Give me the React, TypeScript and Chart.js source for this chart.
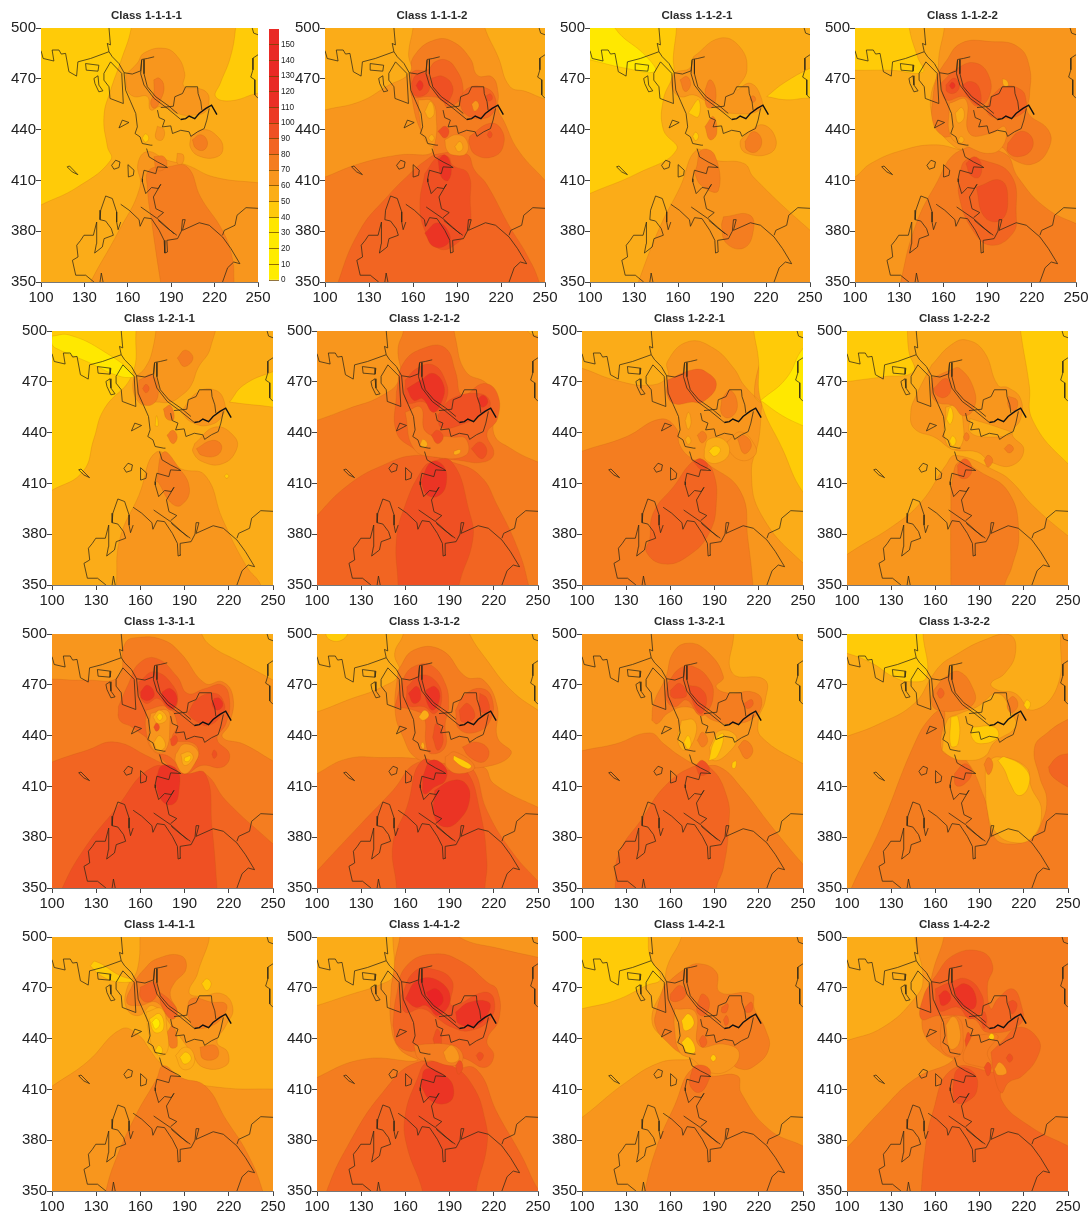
import React, { useEffect, useRef } from "react";
import { Chart, registerables } from "chart.js";

Chart.register(...registerables);

type Row = number[];

const xTicks = [100, 130, 160, 190, 220, 250];
const yTicks = [350, 380, 410, 440, 470, 500];
const legendLevels = [0, 10, 20, 30, 40, 50, 60, 70, 80, 90, 100, 110, 120, 130, 140, 150];
const legendColors = ["#FFEC00", "#FFEC00", "#FFE900", "#FFE600", "#FFC90B", "#FBAE17", "#F8961D", "#F47D20", "#F26522", "#EF5023", "#EC3A24", "#EA2F25", "#E92A25", "#E92A25", "#E92A25", "#E92A25"];
const levelColor: Record<number, string> = { 30: "#FFE800", 40: "#FFCB08", 50: "#FBAC18", 60: "#F8961D", 70: "#F47D20", 80: "#F26522", 90: "#EF5023", 100: "#EB3424", 110: "#E92325" };

// map outline, data coordinates x,y,x,y...
const coastNorth = [100,486.6,101.5,482,108.9,480.5,107.7,487,112.4,487,114,484.6,117,485,119.3,474.2,124.6,471.6,125.5,480,134.3,482,147,486,149.3,483,153.9,479,157.4,473.6,163.1,472.8,168.9,474.7,169.6,481.4,173.5,482,178.2,483];
const coastNorthBranch = [147,486,145.8,490.9,148,490,147,500];
const coastCentre = [157.4,473.6,158.5,463.3,162,456.4,165.5,449.5,166.6,441.6,165,437.7,168.5,435.7,170,431.8,175.8,430.8,177,430.8];
const coastSouthA = [173,428.8,174.7,423.9,180.5,420.9,185.1,418.9,187.4,417.6,180.5,418,179.3,414,171.2,416,170,411,170.1,409.1,172.4,402.2,176.4,405.8,181,405.2,182.8,407.7,177.7,400.2,179.4,393.3,184.7,391,180.5,388];
const riverA = [169.6,481,168.9,473,171.2,466.3,178.2,458.4,187.4,452.5,196.6,446];
const riverB = [171.2,481.4,171.2,473,173.5,465.3,179.3,459.4,188.5,453.8,194.3,449.5];
const thickLine = [196.6,446,200,446.5,202.4,448,206.3,446.5,209.3,449.5,214,452.5,217.9,454.4,221.6,448.9];
const bayNorth = [182.8,453,191.5,453.8,192.5,459.4,197.8,461.3,200,465.3,208.2,465.3,208.6,461.3,210.5,456.4,211.2,451.5];
const baySouth = [180.5,451.5,181.6,447.1,185.5,445.6,183.9,441.6,189.7,442.2,190.9,437.7,196.6,439.6,202.4,438.7,203.6,436,208.2,438.7,212.8,440.6,214.6,445.6,216.3,452.5];
const roadA = [169,394.3,180.5,387.4,192,378.5];
const roadB = [181,386.4,187,382,193.9,377.6];
const coastSouthB = [155.1,395.9,160.9,392.4,167.8,386.8,168.5,382.9,171.3,388,176.4,387.4,181.7,380.5,185.1,374.6,185.6,367.1,187.4,367.7,187,374.6,194.4,375.6,197.1,380.1,197.8,386.8,199.7,386.8,197.8,380.5,209.4,385,216.3,383.5,225.5,376.6,231.3,369.7,237.5,360.8,233.2,361.8,229,358.4,225.5,350];
const coastEast = [225.5,377.6,226.7,380.5,234.1,383.5,235.5,389.4,241.7,393.9,250,393.5];
const peninsula = [144.7,400.8,141.3,392.4,140.8,386.8,144.7,386,148.6,381.5,150,377.6,143.6,375.6,142.4,370.7,137.1,367.1,138.3,372.6,138.5,385.4,136.2,377.6,129.7,377.6,127.4,374.6,124.7,371.7,125.6,364.8,121.7,362.8,124,354,130.9,354,136.6,350];
const peninsulaEast = [144.7,400.8,149.3,399.3,152.3,391.4,152.3,385.4,153.3,380.9,155.1,385.4];
const tipSouth = [140.8,350,141.7,355.3,142.9,350];
const islandBox = [130.8,479,140,478,139.4,474.5,131.3,475.1,130.8,479];
const islandThin = [136.6,470.2,139.4,471.8,140,466.3,142.8,462.9,140,462.3,137.3,467.2,136.6,470.2];
const islandLarge = [143.5,473.2,148.1,480,155.8,473.2,156.9,455.4,147.7,458.4,147,465.3,143.5,469.2,143.5,473.2];
const islandTriangle = [153.9,441,156.2,445.6,160.8,444.2,153.9,441];
const islandRound = [148.8,418.9,151.6,421.9,154.6,420.9,153.9,417.6,150.4,416.6,148.8,418.9];
const islandTall = [160.4,412,160.1,419.3,164.3,416,163.8,413,160.4,412];
const islandWest = [118.1,418,119.7,418.5,125.5,413.4,121.6,415,118.1,418];
const cornerNE = [246,500,247,497,250,496];
const coastEdgeE = [250,484.2,246.5,482.2,246.5,475.3,245,471,247.8,469.4,247.8,460.5,250,458.5];
const outlines = [coastNorth, coastNorthBranch, coastCentre, coastSouthA, riverA, riverB, bayNorth, baySouth, roadA, roadB, coastSouthB, coastEast, peninsula, peninsulaEast, tipSouth, islandBox, islandThin, islandLarge, islandTriangle, islandRound, islandTall, islandWest, cornerNE, coastEdgeE];

// contour bands of each class: first number = band level, then x,y pairs
const class1111: Row[] = [
  [40,90,510,162,510,162.4,500,155,480,148.2,463.5,143.5,447.7,145.9,430,148.2,422,125.1,406,100,395.5,90,391],
  [40,234.5,510,234.5,500,231,483,224,467.4,220.7,459.5,231,457,250,461.5,260,462,260,510],
  [60,130,340,134.3,350,152.8,378.6,168.4,406,167,420,173.5,427,187,422,201,419,219.6,412,250,408.6,260,408,260,340],
  [70,185,340,182.7,350,177,382.5,173.5,406,174.6,416,187.3,418,201,418,210.4,400,225.3,380.6,232,365,233.4,350,233,340],
  [60,158.5,472.4,166.6,479.3,171.2,485.2,185,488,194.2,483.2,199.3,473.4,198.8,465.5,208,464.5,215,461.5,216,455.6,213.8,450.6,207,448.7,197.7,448.7,182.7,453.6,175.8,451.6,173.5,459.5,164.3,459.5,159.7,463.5],
  [60,203.5,436,212.7,440,221.9,436,225.8,429,221.9,424,210.4,424,203.5,429],
  [70,204.6,434,210.4,437,215,433,212.7,428,207,429],
  [70,178,469.4,181.6,470.4,185,465.5,182.7,457.6,178.6,452.6,175.8,455.6,178,461.5],
  [70,178,424,185,424,186.6,418,180.4,416],
  [60,194.2,426,198.4,425,197.7,420,194.2,420],
  [60,180.4,442,185,440,183.9,434,179.3,435],
  [40,170,435,172.3,437.5,174.5,435,172.3,432.5],
];
const class1112: Row[] = [
  [70,100,412,124,420,150,425,173.7,427,165,440,160,455,158,474,162,485,175,493,187,492,199,482,204,472,214,471,218,462,218,452,222,445,231.6,428,250,410,260,400,260,340,90,340,90,408],
  [50,90,510,161,510,160,500,157,485,158,474,142,465.5,124,456.6,100,451.6,90,449],
  [50,207,510,209,500,218,483,226,465.5,237,462.5,250,458,260,456,260,510],
  [80,108,340,109,350,123.8,380.6,142,400,157.9,414,169,422,177,425.6,196.4,425.6,202,416,210,408,226,382.5,237,367,246,350,247,340],
  [90,168,414,177,424,184,424,187,419,197.6,414,199,398,198,382.5,187,371,177,370,168,380.6,164.7,396],
  [100,177,422,181.7,425,186,418,184,410,179.4,412],
  [100,168,379,177,385,185,378,183,372,174,371],
  [80,158.5,468.4,160,474.3,170,475.3,175,480,183,481,189.6,475.3,194,465.5,192,457.6,182.8,453.6,180.5,457.6,171.5,459.5,160,459.5],
  [90,159,467.4,162.4,472.4,169,473,171.5,465.5,168,460.5,161,460.5],
  [90,172.6,470.4,180.5,471.4,187,465.5,185,457.6,181.7,455.6,174,463.5],
  [100,162,466,164.7,469,167,466,164.7,463],
  [80,190.8,457.6,198.7,465,210,464.5,215.7,459.5,215.7,451.6,209,446.7,196.4,448.7],
  [60,200,455,203,457,205,454,202,451],
  [90,210,460,213,461,214,458,211,457],
  [80,198.7,436,212.3,443.7,220.3,440,221.4,430,214.6,424,203,425,198.2,432],
  [90,210.5,437,212.3,439,214,437,212.3,435],
  [60,163.5,457.6,173,456.6,176,445,175,432,172.6,430,167,436,164.7,445.7],
  [50,168,450.6,172,456.6,174.5,449.7,171,446.7],
  [50,170.5,435,172.6,437,174.5,435,172.6,433],
  [60,181.7,434,189.6,437,196.4,434,196.4,426,187.4,425,183,428],
  [50,188.5,430,192,433,194,429,190.8,427],
  [90,177,439,181.7,442,184.6,439,181.7,435],
];
const class1121: Row[] = [
  [40,90,510,159,510,159,500,156.8,483,156.8,473,150,457.6,150,440,159,428,132,414,100,402.3,90,398],
  [30,90,510,117,510,117,500,138.6,483,144.3,474.3,123.9,476.3,100,481.2,90,483],
  [40,220.5,459.5,232,467.4,250,476.3,260,480,260,456,250,458.5,234,457.6],
  [60,130,340,133,350,147.7,382.5,161.4,406,172.7,428,185,422,205,420,211.4,412,250,380.6,260,375,260,340],
  [60,170.5,483,188.6,494,202,489,207,475,200,463.5,209,467.4,216,460.5,216,451.6,195.5,449.7,184,453.6,177.3,457.6,170.5,460.5,161.4,459.5,155.7,465.5,158,473.3,168,476.3],
  [60,206.8,437.8,218,442.8,226.8,434,222.7,426,206.8,426,202.3,432],
  [70,205.7,433,211.4,438.8,217,434,213.6,427,207,428],
  [70,172.7,418,176,428,185,425,187.5,404,177.3,406,171.6,414],
  [70,191,388.5,209,389.5,211,378.6,204.6,370,193.2,372.7,189.8,382.5],
  [70,178.4,463.5,181.8,469.4,185.7,463.5,184,453.6,179.5,453.6],
  [70,161.4,469.4,166,471.4,168.6,466.5,164.8,462.5],
  [70,178.4,441.8,184,447.7,186.4,437.8,181.8,434],
  [40,167,449.7,173.9,457.6,173.9,447.7],
  [40,170,436,172,438.5,174,436,172,433.5],
  [70,209,458,211,460,213,458,211,456],
];
const class1122: Row[] = [
  [70,129,340,131,350,140,380.6,153.8,406,172,428,201.4,426,210.5,412,228.6,394.4,250,384.5,260,382,260,340],
  [50,90,408,100,412,110.7,420,133,428,155,431,172,428,167.4,430,158.3,438,152.6,447.7,151.5,459.5,156,473.4,157.2,485,160.6,500,160.6,510,90,510],
  [40,90,510,137,510,136.8,500,142.4,483,146,474,125,475,100,475,90,475],
  [70,160.6,479,172,491,192,492,210.5,489,218.4,477,218.4,459.5,217.3,450,231,440,232,430,221.8,420,208,422,199,430,175,436,165,436,160,436,153,444,153,459.5,156,472],
  [60,164,455.6,175.3,457.6,177.6,437.8,192.3,437.8,201.4,441.8,201.4,432,192.3,426,176.5,430,165,436],
  [80,158.3,467.4,169.7,476.3,182,479.3,191,471.4,191,459.5,183.3,453.6,174.2,459.5,161.7,457.6],
  [90,161.7,466.4,167.4,470.4,170.8,465.5,167.4,461.5,162.4,462.5],
  [90,172.4,466.4,178.7,468.4,184.4,464.5,184.4,454.6,176.5,459.5],
  [100,164,466,166,468,168,466,166,464],
  [80,170.8,414,175.3,422,186.7,422,206,413,209.4,390.4,207,378.6,192.3,371.7,179.9,380.6,170.8,400],
  [90,175.3,420,181,424,185.5,420,184.4,412,178.7,413],
  [90,182.3,406,199,410,203.7,398,199,386.5,187.8,388.5],
  [80,192.3,459.5,201.4,465.5,212.7,463.5,216,457.6,215,450.6,201.4,446.7,190,449.7],
  [80,203.7,432,211.6,438.8,219.6,436,219.6,428,210.5,424,203.7,427],
  [50,168,449.7,172.5,453,174,447,170,444],
  [50,170,434,172,436,174,434,172,432],
  [50,200,470,203,469,204,466,201,466],
];
const class1211: Row[] = [
  [40,90,510,157,510,157,500,154.3,474,135.4,454,128.3,436,121,417,100,406,90,402],
  [30,100,497,111.8,497.6,135.4,487.8,155.5,474,147,473,123.6,482,104.7,489,100,492],
  [40,220.5,458,230,468,250,476,260,478,260,453,250,455,230,457],
  [60,172,510,208.7,510,207.5,490,199,478,194.5,468,188,462,180,458,170,458,160,457,155,470,163,478,168,488],
  [60,196.8,433.5,211,443.3,224,437.4,225,429.5,215.7,421.6,202.7,422.6,195.7,428.5],
  [70,198,430.5,208.6,435.4,215,432.5,212,426.6,201.6,426.6],
  [60,187.4,452.2,199,464,211,465,217,458,215.7,450,206,444.3,194.5,446.3],
  [60,143,340,143.7,350,146,377,159,403,170.9,428.5,187.4,418.7,204,414.7,215.7,389,232,361,241.7,350,243,340],
  [70,170.9,411,175.6,428.5,185,420.6,193.3,406.8,187.4,397,180.3,399,172,410.8],
  [70,159,471,168.5,474,172,462,166,456,159,460],
  [80,161.5,466,163.8,468.5,166,466,163.8,463.5],
  [70,185,484,190.5,488.7,195.7,484,189.8,479],
  [70,178,438.4,182,441.4,185,437.4,182,433.5],
  [70,175.6,454,180.3,456,182.7,448,178,448],
  [40,170,444,171,450,172,444],
  [40,217,414.3,218.5,415.5,220,414.3,218.5,413],
];
const class1212: Row[] = [
  [60,90,510,158.6,510,158.6,500,155,489.7,156,472,144.4,462,120.8,454,100,447.3,90,445],
  [60,192,510,194,495.7,201,476,215.3,469,222.4,458,220,439.4,231.8,430.5,250,422.6,260,420,260,510],
  [50,240,510,243,500,250,497,260,497,260,510],
  [80,90,380,100,391,120.8,408.8,144.4,420.6,168,426.6,191.6,422.6,210.5,414.7,222.4,397,236.5,371,243.6,350,245,340,90,340],
  [80,153.9,464,158.6,481,172.7,490,187,490,194,476,198.7,462,213,469,222.4,463,222.4,448,215.3,439.4,220,427.6,213,422.6,196.4,423.6,175,426.6,165.7,430.5,153.9,440.4],
  [70,159.8,452,170.4,455,174,440.4,191.6,437.4,201,436.4,201,426.6,179.8,425.6,165.7,430.5],
  [90,155,340,155,350,153.9,377,159.8,397,170.4,416.7,177.5,422.6,191.6,422.6,203.5,393,205.8,377,196.4,350,196,340],
  [100,170.4,410.8,177.5,422.6,185.6,420.6,187.9,410.8,183.2,403,175,403],
  [90,159.8,471,168,478,178.7,480,187,471,188,460,179.8,452,172.7,458,161,458],
  [100,161,466,170.4,471,178.7,475,186,468,184.5,458,178.7,452,171.6,460,165.7,459],
  [90,182,450.3,191.6,460,210.5,463,217.5,458,214,452,198.7,445,184.5,443],
  [100,209,460,213,462,216,458,212,455],
  [90,177.5,438.4,181.7,441.4,185.7,437.4,181.7,433.5],
  [90,204.6,430.5,210.5,434.5,215.3,429.5,211.7,424.6],
  [50,170,433,172,436,175,433,172,431],
  [50,193,429,197,430,197,428,193,427],
];
const class1221: Row[] = [
  [70,90,425,100,429,129.6,437.4,153.3,448,164,442.4,166.4,432.5,174.7,424.6,186.5,420.6,207.8,404.9,212.6,377,216,350,216,340,90,340],
  [50,90,510,220,510,217,462,222,457.6,210,468,203,478,189,490,172,493.7,158,482,158,473,146,468,122.5,471,100,478,90,480],
  [50,222,457.6,220,436,215,416,222,391,250,363,260,360,260,440],
  [40,216,510,216.6,500,219.7,483.8,221.3,459,236,430.5,250,404.8,260,400,260,510],
  [30,221.3,459,238.6,472,250,489.7,260,495,260,440,250,444,236,450],
  [80,146,377,143.8,369.3,155.7,362.4,172.3,367.3,186.5,381,191.2,399,189,416.7,181.8,423.6,174.7,422.6,162.8,408.8,148.6,393],
  [80,158,471,174.7,477,184,476,191.2,468,181.8,458,174.7,458,162.8,457,158,462],
  [90,175.8,422.6,180.6,424.6,185.3,420.6,181.8,417.7],
  [70,194.8,460,200.7,465,205.5,456,200.7,449,194.8,451],
  [60,198.4,434.5,207.8,440.4,217.3,432.5,217.3,426.6,207.8,423.6,198.4,431],
  [70,205.5,436.4,210,438.4,215,432.5,210,427.6],
  [70,178.2,438.4,181.8,440.8,184.6,437.4,181.3,434],
  [50,183,430,186,436,196,436,200,428,192,422,184,424],
  [40,186,429,190,432,194,430,190,426],
  [50,170,447,172.3,452,174,446,172,442],
  [50,170,436,172,438,174,435,172,433],
];
const class1222: Row[] = [
  [40,90,510,141,510,141,500,142,487.8,145,476,125,473,100,470,90,468],
  [40,217,510,217.8,500,223.7,468,226,447.3,250,421.6,260,418,260,510],
  [60,90,360,100,368,131.5,385,150.4,399,167,420.6,174,426.6,202.4,416.7,212,410.8,226,397,250,379,260,373,260,340,90,340],
  [60,157.5,480,170.5,491.7,181,494.7,193,487.8,202.4,468,209.5,466.5,217.8,460,217.8,448,212,439.4,220,430,212,420.6,197.7,422.6,188.3,428.5,172,430,160,437,145.7,442.4,143.3,452.2,147,462],
  [50,167,455,175,456,178.8,446,177.6,432.5,170.5,430.5,165.8,439.4,167,449],
  [50,183.5,448.3,204.8,442.4,212,439.4,195.3,437.4,183.5,440.4],
  [70,157.5,472,170.5,477,176.4,478,186,466,186,454,178.8,450,171.7,456,162,457.6,157.5,462],
  [80,158.7,466,167,472,170.5,466,167,461,161,462],
  [70,170.5,340,170.5,350,170.5,395,171.7,412.7,176.4,422.6,190.6,416.7,209.5,405,216.6,381,212,361,207,350,206,340],
  [80,175,420.6,180,424.6,184.7,419.7,182.3,413.7,176.4,413.7],
  [70,209.5,461.5,215.5,459,214,453,209.5,455.6],
  [70,206.7,430.5,210,433,213,430.5,210,428],
  [70,193,423.6,195.8,426.6,198.9,423.6,195.8,419.7],
  [70,179,437.4,181,440,183,437.4,181,435],
  [40,169.5,435,171.7,438,174,435,171.7,432],
  [40,167.5,448,170,455,172,450,170,445],
];
const class1311: Row[] = [
  [50,200,510,201.6,500,208.7,492.5,225,484.6,250,472.8,260,468,260,510],
  [70,100,473.4,123.6,472.8,145,474.7,149.6,494.5,159,498,175.6,496.4,187.4,488.6,204,470.8,215.7,471.8,222.8,462.9,220.5,447,215.7,439,230,435,250,425,260,420,260,340,90,340,90,473],
  [80,90,420,100,424.4,123.6,431.3,142.5,436.2,166,427.4,173,424.4,192,417.5,204,417.5,218,401.7,250,376,260,368,260,340,90,340],
  [90,104,340,107,350,121,372,142.5,395.8,168.5,421.4,189.8,417.5,204,417.5,208.6,386,212,350,212,340],
  [80,145,457,152,470.8,159,482.6,170.9,485.6,185,474.7,192,464.9,204,467.8,215.7,469.8,220.5,461,218,447,212,438,220.5,429,215.7,421.4,201.6,422.4,189.8,417.5,175.6,425.4,168.5,435,154.3,445,146,449],
  [70,163.8,455,178,457,185,447,182,438,196.8,435,199,427,189.8,419.5,180,427.4,168.5,431.3,163.8,443],
  [60,167,453,178,455,180,447,176.8,431,168.5,432.3,165.7,443],
  [50,168.5,451,173,455,178,450,172,447],
  [40,171,451,173,453,175,451,173,449],
  [50,169,436,173,440,177,434,172,431],
  [60,183.9,429,189.8,435,199,431,196.8,423.4,189.8,417.5,183.9,424.4],
  [50,187.4,429,193.3,430.3,195.7,426.4,189.8,422.4],
  [40,190,427,194,428,193,425,190,425],
  [90,159,471.8,169.7,477.7,182.7,468.8,185,458.9,180.3,455,172,461.9,163.8,459,159,465.8],
  [100,160,465.8,164.8,469.8,169.5,464.9,166,460.9,161,461.9],
  [100,174.7,465.8,180.3,467.8,185,461.9,181.5,456,174.7,461.9],
  [90,192,453,199,461.9,211,464.9,216.9,459,215.7,453,206,446,197,449],
  [100,210,462,213.6,462,216,458,212.2,455,208.7,458],
  [90,180.3,438,183.9,440,185,436,181.5,434],
  [90,169,445,171,447.5,173,445,171,442.5],
  [100,170.9,415.5,174.8,422.4,185,419.5,186.2,407.6,182.7,399.7,175.6,400.7,170.9,409.6],
  [90,208.5,429,210,431.5,212,429,210,426.5],
];
const class1312: Row[] = [
  [70,90,412,100,417.5,120.8,426.4,144.4,427,168,426.4,190,423,213,421.4,220,411.6,250,397.7,260,395,260,340,90,340],
  [50,90,510,158.6,510,158.6,500,152.7,488.5,156,476.7,144.4,468.8,120.8,461,100,454,90,452],
  [40,105,505,121,505,118,497,108,497],
  [50,200,510,203.5,500,215.3,484.6,231.8,466.8,250,455,260,450,260,510],
  [70,155,478.7,165.7,490.5,184.6,490.5,201,474.7,213,472.8,222.4,457,222.4,439,231.8,429.3,213,421.4,190,423,168,426.4,158,440,153,455],
  [80,90,350,100,360,130,388,151.5,407.6,168,424,190,423,205,421,215.3,395.8,231.8,372,250,354,260,345,260,340,90,340],
  [90,154,340,154,350,151.5,376,161,397.7,171.6,425.4,189.3,419.5,201,419.5,210.5,395.8,215.3,366,214,350,214,340],
  [100,179.8,407.6,191.6,413.5,201,411.6,203.5,401.7,196.4,390,187,386,179.8,392],
  [100,171.6,415.5,177.5,425.4,187,421.4,187,413.5,179.8,409.6,172.7,405.6],
  [80,194,455,200,463.9,211.7,467.8,218.8,461.9,217.6,449,208,442,196.4,444],
  [80,152.7,457,159.8,475.7,168,481.6,177.5,481.6,187,470.8,189.3,457,187,447,187,433.3,177.5,429.3,174,435,172.7,451,165.7,455],
  [90,161,468.8,170.4,475.7,181,471.8,184.6,461,179.8,453,172.7,457,162,458],
  [100,162,465,168,469,170.4,462,165.7,459],
  [100,174,467,179.8,469,183.4,463,178.7,455,174,461],
  [90,178.5,439,181,447,185.7,438,182,431.3],
  [90,210.5,465,215.3,462,216.5,454,210.5,455],
  [90,196.4,455,202.3,459,207,451,198.7,448],
  [80,198.7,433.3,208,436.2,216.5,431.3,213,424.4,203.5,427.4],
  [70,187,427.4,194,430.3,207,421.4,196.4,417.5,188,421.4],
  [40,192.8,428.3,204.6,422.4,202.3,420.4,193,425.4],
  [50,169,451,173,455,176,452,172,449],
  [50,170.5,434,171.5,436,173,434,172,432],
];
const class1321: Row[] = [
  [50,203,510,203,500,202,477,224,473,224.4,461,219.7,449,222,439,250,423.4,260,420,260,510],
  [70,90,428,100,431,122.5,435,146,441.6,155.7,435,167.5,427.4,179.4,422.4,193.6,421.4,207.8,409.6,229,386,250,364,260,355,260,340,90,340],
  [80,122,340,122.5,350,124.9,370,141.5,391.8,155.7,409.6,174.7,421.4,186.5,421.4,198.4,403.7,199.5,386,196,362,191.2,350,191,340],
  [70,147.4,449,148.6,459,157,474.7,161.6,488.6,171,494.5,184,490.5,196,474.7,191,468.8,200.7,464.9,215,465.9,222,461,217,451,203,447,189,449,181.8,453,170,457,158,453,151,447],
  [80,158,470.8,166.4,479.7,175.8,480.7,186.5,472.8,189,462.9,184,453,179.4,452,171,461,162.8,457,157,462],
  [90,160,466.8,166.4,470.8,171,463.9,165,462,160.7,462.9],
  [90,172.3,469.8,180.6,467.8,184.6,461,180.6,453,174.7,461],
  [80,210,458.9,215,461.3,216,458,212,456],
  [70,206,433.3,210.7,437.2,216,431.3,211.4,426.4],
  [70,178.2,437.2,181.8,442,185.3,437.2,181.8,433.3],
  [90,177,422.4,181.8,425.4,186.5,419.5,180.6,416.5],
  [50,167.5,449,176,449,177,440,170,431.3,165,437],
  [40,169,436,172,440,174,435,172,432],
  [50,186.5,433,193.6,443,205,439,198.4,429,188.9,425.4],
  [40,186,425,190,437,196,441,192,428],
  [40,202,424,204.5,425,204,421,202,421],
];
const class1322: Row[] = [
  [70,100,340,103,350,122,384,145.7,435,157,451,166,455,164.6,431,178.8,427.4,193,403.7,200,380,212,376,226,380,231,386,235.6,401.7,230.8,415.5,227.3,433,236,441.7,250,449.6,260,452,260,340],
  [50,90,510,245,510,245,500,242.7,468.8,226,455,214.3,464.9,202.4,466.8,197.7,470.8,207,476.7,214.3,488.6,210.7,499.4,193,496.4,171.7,486.6,164,482,157.5,474.7,145.7,459,122,447,100,439.6,90,437],
  [40,90,510,151.6,510,151.6,500,154,474.7,143.3,471.8,131.5,474.7,117.3,482.6,100,488.6,90,490],
  [50,164.6,431.3,168,449,176.4,453,188.3,457,202.4,464.9,212,453,214.3,445,200,436,193,427.4,178.8,425.4,170.5,427.4],
  [50,194,423.4,202.4,427.4,221.4,421.4,225,409.6,232,395.8,226,380,212,377,200,384,195.3,395.8,194,411.6],
  [40,202.4,425.4,207,427.4,222,419.5,223,409.6,216.6,404.6,210.7,411.6,207,419.5],
  [40,220,458,222,461,224.5,459,222.5,455.5],
  [40,170.5,451,175.3,451,175.3,435,170.5,434],
  [40,184.7,445,200,445,202.4,439,190.6,435.2,184.7,439],
  [70,158.7,466.8,167,474.7,176.4,477.7,186,466.8,186,459,176.4,455,162,455,157.5,459],
  [80,161,465,163.4,468,166,465,163.4,462],
  [80,236.8,421.4,242.7,427.4,250,429.3,260,430,260,405,250,409.6,242.7,413.5,238,417.5],
  [80,172.9,417.5,180,423.4,184.7,418.5,180,411.6,174,410.6],
  [70,193,423,196,427,199,423,196,417],
  [70,209,461,213,463,216,458,212,453.5,209,456],
];
const class1411: Row[] = [
  [60,160,505,204,505,199,479,193,467.4,200,465,215.7,466.4,222.8,457.6,218,447.7,212,437.8,219.3,431.9,218,424,202.7,423,194.5,432,182.7,445.7,168.5,459.5,159,453.6,150.8,457.6,150.8,469.4,158,481],
  [60,90,405,100,411.8,123.6,426,147.2,445.7,159,441.8,166,433.9,173.2,426,189.8,416,215.7,411,250,410.2,260,410,260,340,90,340],
  [70,135,340,136.6,350,142.5,366.8,156.7,394.4,170.9,416,175.6,424,187.4,417,204,412,218,392.4,232.3,372.7,243,350,244,340],
  [70,155.5,473.4,162.6,481,170.9,487,187.4,489,191,481.2,182.7,472.4,180.3,465.5,185,455.6,180.3,451.6,170.9,461.5,159,459.5,150.8,461.5],
  [80,160,470.4,169.7,473.4,170.9,465.5,165,461.5,160,464.5],
  [80,173.2,467.4,180.3,462.5,185,455.6,181.5,451.6,174.4,459.5],
  [70,192,453.6,194.5,463.5,208.7,461.5,218,460.5,217,454.6,208.7,447.7,196.8,446.7],
  [70,200.4,434.9,211,435.8,212.2,429,202.7,428],
  [70,178,443.7,182,447.7,185,435.8,180.3,434.9],
  [50,163.8,455.6,174.4,457.6,178,445.7,178,432,170.9,431,166,441.8],
  [40,166,451.6,173.2,454.6,175.6,445.7,169.7,443.7],
  [30,167.8,449.7,170.9,452,173.2,448.7,170.2,445.7],
  [40,170,433,172.5,436,175,433,172.5,430],
  [50,183.9,430,189.8,434.9,195.7,432,195.7,424,188.6,422],
  [40,186.7,429,191,432,194.5,428,189.8,425],
  [40,201.6,472.4,205,475.3,208,472.4,205,468.4],
  [40,126,483,129.5,485.6,146,477.3,155.5,474.3,145,473.4,133,477.3],
];
const class1412: Row[] = [
  [60,90,510,152,510,152,480,150.3,469.4,150.3,447.7,156,433.9,168,427,132.6,428,100,417,90,410],
  [50,90,510,151.5,510,151.5,500,151.5,477.3,144.4,472.4,120.8,465.5,100,459.5,90,457],
  [60,190,510,196.4,500,224.7,493,250,488,260,486,260,510],
  [80,105,340,106.6,350,120.8,376.6,144.4,408,168,426,191.6,422,208,422,222.4,396,238.9,370.7,250,351,260,340],
  [90,171.6,340,171.6,350,161,376.6,159.8,394.4,168,416,175,426,191.6,424,205.8,412,214,392.4,215.3,376.6,208,350,208,340],
  [100,170.4,412.2,174,422,187,418,192.8,410,189.3,402.3,177.5,403.3],
  [80,151.5,447.7,153.9,465.5,161,483.2,179.8,490,198.7,485.2,215.3,473.4,222.4,468.5,223.5,451.6,215.3,438.8,220,430,214,423,201,428,184.6,432,174,432,156,435],
  [90,157.4,465.5,165.7,479.3,177.5,481.2,191.6,474.3,191.6,459.5,212.9,467.4,220,463.5,217.6,451.6,203.5,444.7,191.6,446.7,182.2,451.6,171.6,457.6,159.8,455.6],
  [100,159.8,463.5,168,474.3,182.2,474.3,190.5,463.5,182.2,453.6,174,459.5,166.8,458.5],
  [110,174,467.4,181,469.4,185.7,462.5,179.8,458.5],
  [100,194,455.6,203.5,461.5,216.5,461.5,216.5,455.6,208,447.7,196.4,448.7],
  [90,178.7,439.8,181.7,445.7,184.6,438.8,181.7,431.9],
  [70,165.7,436,175,436.8,187,436.8,196.4,434,198.7,427,191.6,424,177.5,427,169,428],
  [60,185.7,432,191.6,436,196.4,428,189.3,426],
  [90,194,424,197,427,199,423,196,419],
  [90,208,430,210.5,432,213,430,210.5,427],
];
const class1421: Row[] = [
  [50,90,510,167.5,510,167.5,500,158,483,155.7,471.4,147.4,451.6,155.7,440,174.7,429,153.3,426,129.6,414,100,393.4,90,388],
  [40,90,510,145,510,145,500,146,489,153.3,475.3,143.8,471.4,122.5,462.5,100,457.6,90,455],
  [70,142,340,142.7,350,151,376.6,162.8,400.3,174.7,422,186.5,418,205.5,418,208,408,226.8,386.5,250,376.6,260,372,260,340],
  [70,155.7,471.4,170,481.2,179.4,484.2,191.2,479.3,193.6,467.4,215,466.4,217,457.6,224.4,445.7,226.8,434,217.3,424,207.8,422,196,428,181.8,428,170,430,158,437.8,149.8,447.7,151,457.6],
  [60,162.8,457.6,177,455.6,179.4,436,196,436.8,206.6,432,200.7,422,186.5,420,174.7,428,166.4,432,162.8,445.7],
  [80,160,466.4,166.4,471.4,170.4,466.4,166.4,462.5,160.4,462.5],
  [80,178.7,461.5,181.8,466.4,186.5,461.5,183,453.6,178.2,455.6],
  [80,194.8,458.5,199,460.5,198,455.6,194.8,455.6],
  [80,210.7,458.5,215,461.5,215.4,456.6,211.4,455.6],
  [80,196,451,198,453.6,199.5,450,197.5,447.7],
  [80,179.4,438.8,182.2,441.8,184.8,437.8,181.8,434.9],
  [80,173.5,418,177,424,186.5,422,185.3,414,179.4,408.2,173.5,412],
  [40,167.5,450.6,172.3,454.6,176,448.7,170,444.7],
  [40,167.5,437.8,172.3,440.8,177,432.9,172.3,431],
  [40,187,428.5,189,430.5,191,428.5,189,426.5],
];
const class1422: Row[] = [
  [60,90,510,165.8,510,165.8,500,158.7,481,155,465.5,151.6,457.6,152.8,441.8,165,431,171.7,427,145.7,416,122,396.4,100,375.6,90,368],
  [50,90,510,146,510,146,500,151.6,475,145.7,463.5,124.4,446.7,100,438.8,90,436],
  [80,150,340,150.4,350,152.8,372.7,157.5,394.4,171.7,422,200,420,207,418,204.8,404,223.7,388.5,250,376.6,260,372,260,340],
  [80,197.7,432,204.8,437.8,216.6,446.7,229.7,439.8,229.7,430,219,418,209.5,414,204.8,408,200,418],
  [80,158.7,475.3,171.7,489,190.6,491.5,198.9,483,195.3,471.4,197.7,457.6,202.4,463.5,212,469.4,217.8,461.5,217.8,448.7,195.3,443.7,185.9,451.6,162.2,453.6,150.4,451.6,152,465],
  [90,159.9,469.4,170.5,473.4,181,475.3,190.6,467.4,191.8,457.6,183.5,451.6,175.2,458.5,162.2,456.6],
  [100,162.2,465.5,167,468.4,170.5,463.5,164.6,459.5],
  [100,172.9,469.4,180,472.4,187,466.4,185.9,457.6,176.4,460.5],
  [90,171.7,410,175.2,422,185.9,420,188.3,410,182.3,403.3,174,402.3],
  [90,209.5,461.5,213,462.5,215.5,459.5,212,454.6],
  [90,191,451,193,456,195,450,193,446],
  [90,180,438.8,182.3,443.7,184.7,437.8,181.6,433.9],
  [90,208,428.5,210.3,431,212.5,428.5,210.3,426],
  [70,164.6,451.6,175.2,452.6,178.8,441.8,176.4,430,165.8,432,163.4,441.8],
  [60,167,448,172,453,176,448,176,437,170,434],
  [70,184.7,441.8,202.4,441.8,195.3,432,197.7,424,187,424,178.8,428],
  [60,200,422,203.6,426,208.4,420,202.4,418.5],
  [40,196,441,198,443,200,441,198,439],
  [90,193,423,195.7,426,198,423,195.7,418],
];

const classNames = ["Class 1-1-1-1","Class 1-1-1-2","Class 1-1-2-1","Class 1-1-2-2","Class 1-2-1-1","Class 1-2-1-2","Class 1-2-2-1","Class 1-2-2-2","Class 1-3-1-1","Class 1-3-1-2","Class 1-3-2-1","Class 1-3-2-2","Class 1-4-1-1","Class 1-4-1-2","Class 1-4-2-1","Class 1-4-2-2"];
const classBase = [50,60,50,60,50,70,60,50,60,60,60,60,50,70,60,70];
const classBands = [class1111,class1112,class1121,class1122,class1211,class1212,class1221,class1222,class1311,class1312,class1321,class1322,class1411,class1412,class1421,class1422];

const rowTops = [28, 331, 634, 937];
const rowHeight = 253.5;
const columnsByRow = [[40.5, 325, 590, 854.5], [52, 317, 581.5, 846.5], [52, 317, 581.5, 846.5], [52, 317, 581.5, 846.5]];
const widthsByRow = [[216.5, 220, 220, 220.5], [221, 220.5, 220.5, 220.5], [221, 220.5, 220.5, 220.5], [221, 220.5, 220.5, 220.5]];
const marginLeft = 34, marginRight = 28, marginTop = 20, marginBottom = 27;

const fontFamily = "'Liberation Sans', Arial, sans-serif";
const toPoints = (flat: number[]) => {
  const pts: { x: number; y: number }[] = [];
  for (let i = 0; i + 1 < flat.length; i += 2) pts.push({ x: flat[i], y: flat[i + 1] });
  return pts;
};

function makeBand(level: number, flat: number[], tension: number) {
  const pts = toPoints(flat);
  pts.push({ ...pts[0] });
  return {
    data: pts, showLine: true, pointRadius: 0, tension,
    borderWidth: 0.6, borderColor: "rgba(185,85,15,0.3)",
    backgroundColor: levelColor[level], fill: "shape" as const,
    capBezierPoints: false,
  };
}
function makeLine(flat: number[], width: number, color: string) {
  return { data: toPoints(flat), showLine: true, pointRadius: 0, tension: 0, borderWidth: width, borderColor: color, fill: false };
}

function Panel({ index }: { index: number }) {
  const ref = useRef<HTMLCanvasElement>(null);
  const row = Math.floor(index / 4), col = index % 4;
  const left = columnsByRow[row][col], w = widthsByRow[row][col], top = rowTops[row];
  const cw = Math.round(w + marginLeft + marginRight), ch = Math.round(rowHeight + marginTop + marginBottom);
  useEffect(() => {
    if (!ref.current) return;
    const lines = outlines.map((l) => makeLine(l, 0.75, "#2e2818"));
    const base = makeBand(classBase[index], [60, 300, 300, 300, 300, 560, 60, 560], 0);
    const bands = classBands[index].map((r) => makeBand(r[0], r.slice(1), 0.45));
    const datasets = [makeLine(thickLine, 1.4, "#111"), ...lines, ...[base, ...bands].reverse()];
    const axisFont = { family: fontFamily, size: 15 };
    const chart = new Chart(ref.current, {
      type: "scatter",
      data: { datasets: datasets as any },
      options: {
        animation: false, responsive: false, devicePixelRatio: 1,
        layout: { padding: 0 },
        plugins: {
          legend: { display: false }, tooltip: { enabled: false },
          title: { display: true, text: classNames[index], color: "#2b2b2b", font: { family: fontFamily, size: 11.5, weight: "bold", lineHeight: 1 }, padding: { top: 2.5, bottom: 6 } },
        },
        scales: {
          x: {
            type: "linear", min: 100, max: 250,
            afterBuildTicks: (s: any) => { s.ticks = xTicks.map((value) => ({ value })); },
            afterFit: (s: any) => { s.height = marginBottom; s.paddingLeft = 0; s.paddingRight = marginRight; },
            ticks: { color: "#222", font: axisFont, padding: 2, maxRotation: 0, autoSkip: false },
            grid: { drawOnChartArea: false, drawTicks: true, tickLength: 5, color: "#444" },
            border: { color: "#777", width: 1 },
          },
          y: {
            type: "linear", min: 350, max: 500,
            afterBuildTicks: (s: any) => { s.ticks = yTicks.map((value) => ({ value })); },
            afterFit: (s: any) => { s.width = marginLeft; s.paddingTop = 0; s.paddingBottom = 0; },
            ticks: { color: "#222", font: axisFont, padding: 0, autoSkip: false },
            grid: { drawOnChartArea: false, drawTicks: true, tickLength: 5, color: "#444" },
            border: { color: "#777", width: 1 },
          },
        },
      } as any,
    });
    return () => chart.destroy();
  }, [index]);
  return <canvas ref={ref} width={cw} height={ch} style={{ position: "absolute", left: left - marginLeft, top: top - marginTop, width: cw, height: ch, filter: "blur(0.35px)" }} />;
}

function Legend() {
  const ref = useRef<HTMLCanvasElement>(null);
  useEffect(() => {
    if (!ref.current) return;
    const chart = new Chart(ref.current, {
      type: "bar",
      data: {
        labels: ["scale"],
        datasets: legendLevels.map((lv, i) => ({ label: String(lv), data: [10], backgroundColor: legendColors[i], barPercentage: 1, categoryPercentage: 1, stack: "s" })),
      },
      options: {
        animation: false, responsive: false, devicePixelRatio: 1,
        layout: { padding: { top: 5, bottom: 5, left: 0, right: 0 } },
        plugins: { legend: { display: false }, tooltip: { enabled: false }, title: { display: false } },
        scales: {
          x: { display: false, stacked: true },
          y: {
            position: "right", stacked: true, min: 0, max: 160,
            afterBuildTicks: (s: any) => { s.ticks = legendLevels.map((value) => ({ value })); },
            afterFit: (s: any) => { s.width = 16; s.paddingTop = 0; s.paddingBottom = 0; },
            ticks: { color: "#222", font: { family: fontFamily, size: 8.2 }, padding: 2, autoSkip: false },
            grid: { z: 1, drawTicks: false, color: "rgba(110,70,0,0.75)", lineWidth: 1 },
            border: { color: "rgba(120,90,20,0.8)", width: 1 },
          },
        },
      } as any,
    });
    return () => chart.destroy();
  }, []);
  return <canvas ref={ref} width={26} height={261} style={{ position: "absolute", left: 269, top: 24, width: 26, height: 261, filter: "blur(0.35px)" }} />;
}

export default function App() {
  return (
    <div style={{ position: "fixed", left: 0, top: 0, width: 1090, height: 1216, overflow: "hidden", background: "#fff" }}>
      {classNames.map((_, i) => <Panel key={i} index={i} />)}
      <Legend />
    </div>
  );
}
